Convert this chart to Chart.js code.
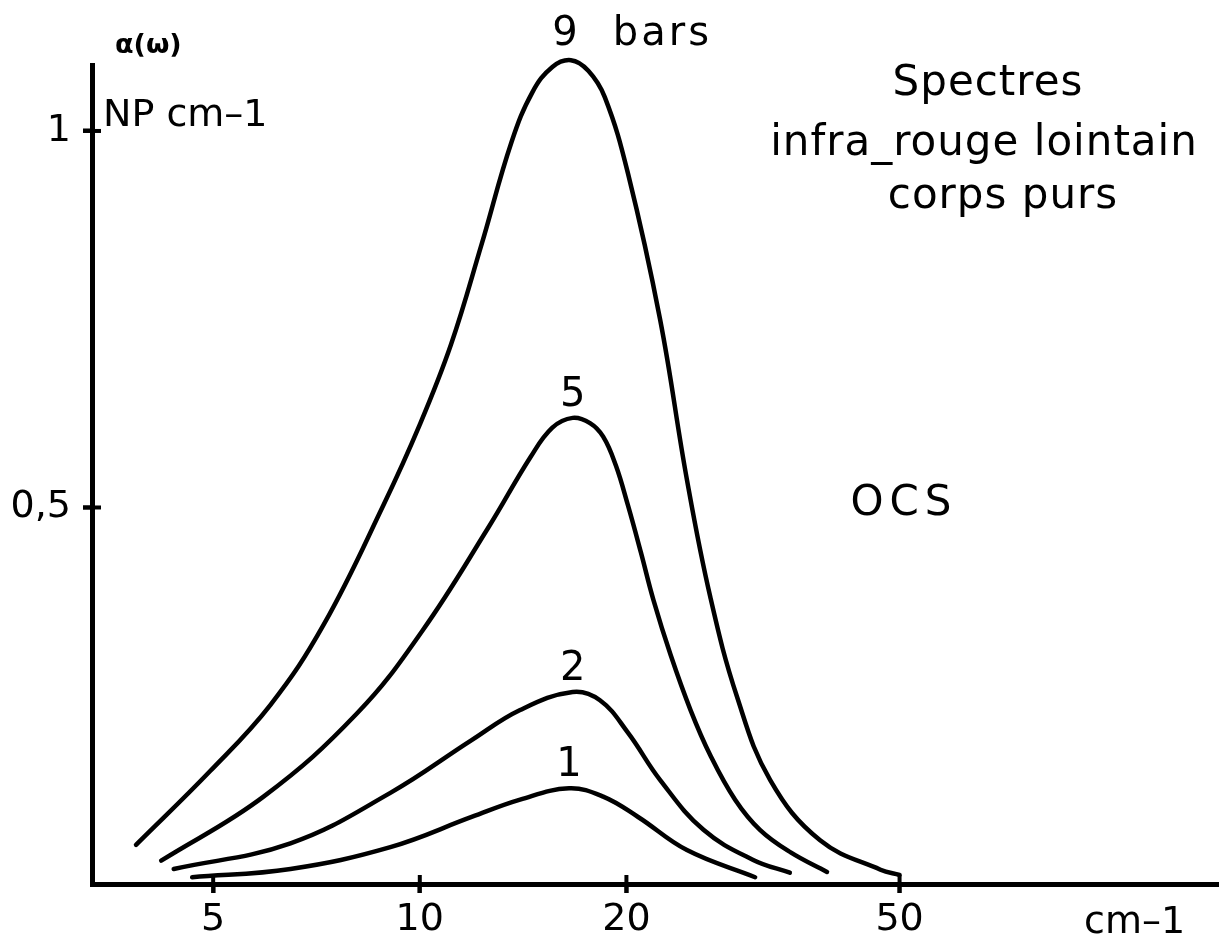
<!DOCTYPE html>
<html>
<head>
<meta charset="utf-8">
<title>Spectres infra-rouge lointain - OCS</title>
<script src="https://cdn.jsdelivr.net/npm/chart.js@4.4.1/dist/chart.umd.min.js"></script>
<style>
  html, body { margin: 0; padding: 0; background: #fff; }
  #wrap { width: 1219px; height: 939px; }
</style>
</head>
<body>
<div id="wrap"><canvas id="ocs" width="1219" height="939"></canvas></div>
<script>
// wavenumber (cm-1) and alpha(omega) (NP cm-1), one pair per pressure
const nu9    = [3.86, 4.95, 6.06, 7.24, 8.85, 10.0, 11.1, 12.3, 13.6, 14.6, 15.6, 16.6, 17.6,
                18.6, 20.1, 22.4, 24.5, 26.5, 29.0, 32.4, 38.3, 46.9, 50];
const alpha9 = [0.052, 0.150, 0.238, 0.344, 0.503, 0.610, 0.716, 0.849, 0.985, 1.052, 1.085, 1.094, 1.080,
                1.045, 0.944, 0.749, 0.537, 0.381, 0.248, 0.138, 0.058, 0.019, 0.012];

const nu5    = [4.20, 5.92, 8.11, 10.1, 12.6, 14.5, 15.6, 16.7,
                17.7, 18.5, 19.3, 20.1, 21.0, 21.9, 23.2, 24.8, 26.5, 28.8, 31.3, 34.7, 39.2];
const alpha5 = [0.031, 0.116, 0.227, 0.337, 0.474, 0.567, 0.606, 0.619,
                0.612, 0.594, 0.556, 0.503, 0.440, 0.377, 0.304, 0.231, 0.171, 0.112, 0.072, 0.042, 0.016];

const nu2    = [4.38, 6.48, 9.06, 11.9, 14.0, 16.7, 18.3, 20.1, 22.4, 25.9, 30.6, 34.6];
const alpha2 = [0.020, 0.054, 0.121, 0.191, 0.231, 0.255, 0.244, 0.201, 0.138, 0.072, 0.032, 0.015];

const nu1    = [4.66, 6.48, 9.06, 11.9, 14.0, 16.5, 18.5, 20.8, 24.5, 30.8];
const alpha1 = [0.009, 0.020, 0.049, 0.089, 0.112, 0.127, 0.116, 0.089, 0.045, 0.009];

const pressures = ["9 bars", "5", "2", "1"];
const xTicks = [5, 10, 20, 50];
const yTicks = [0.5, 1];

const FONT = '"DejaVu Sans", sans-serif';

const curves = [
  { nu: nu9, alpha: alpha9 },
  { nu: nu5, alpha: alpha5 },
  { nu: nu2, alpha: alpha2 },
  { nu: nu1, alpha: alpha1 }
];

const toPoints = (xs, ys) => xs.map((x, i) => ({ x: x, y: ys[i] }));

// texts, tick crosses and curve labels
const annotations = {
  id: "annotations",
  afterDraw(chart) {
    const { ctx, scales: { x, y } } = chart;
    ctx.save();
    ctx.fillStyle = "#000";
    ctx.strokeStyle = "#000";

    // ticks cross the axis lines
    ctx.lineWidth = 4;
    xTicks.forEach(v => {
      const px = x.getPixelForValue(v);
      ctx.beginPath();
      ctx.moveTo(px, y.bottom - 9);
      ctx.lineTo(px, y.bottom + 9);
      ctx.stroke();
    });
    yTicks.forEach(v => {
      const py = y.getPixelForValue(v);
      ctx.beginPath();
      ctx.moveTo(x.left - 9, py);
      ctx.lineTo(x.left + 9, py);
      ctx.stroke();
    });

    // pressure labels above each peak
    ctx.font = "40px " + FONT;
    ctx.textBaseline = "alphabetic";
    curves.forEach((c, i) => {
      const k = c.alpha.indexOf(Math.max(...c.alpha));
      const px = x.getPixelForValue(c.nu[k]);
      const py = y.getPixelForValue(c.alpha[k]);
      if (i === 0) {
        const parts = pressures[i].split(" ");
        ctx.textAlign = "center";
        ctx.fillText(parts[0], px - 6, py - 15);
        ctx.textAlign = "left";
        ctx.letterSpacing = "3px";
        ctx.fillText(parts[1], px + 42, py - 15);
        ctx.letterSpacing = "0px";
      } else {
        ctx.textAlign = "center";
        ctx.fillText(pressures[i], px, py - 12);
      }
    });

    // axis units
    ctx.textAlign = "left";
    ctx.font = "bold 27px " + FONT;
    ctx.fillText("\u03b1(\u03c9)", 115, 53);
    ctx.font = "38px " + FONT;
    ctx.fillText("NP cm\u20131", 103, 126);
    ctx.fillText("cm\u20131", 1084, 933);

    // title block
    ctx.textAlign = "center";
    ctx.font = "42px " + FONT;
    ctx.letterSpacing = "1px";
    ctx.fillText("Spectres", 988, 95);
    ctx.fillText("infra_rouge lointain", 984, 155);
    ctx.fillText("corps purs", 1003, 208);
    ctx.letterSpacing = "6px";
    ctx.fillText("OCS", 904, 515);
    ctx.restore();
  }
};

new Chart(document.getElementById("ocs"), {
  type: "line",
  data: {
    datasets: curves.map((c, i) => ({
      label: pressures[i],
      data: toPoints(c.nu, c.alpha),
      borderColor: "#000",
      borderWidth: 4.5,
      borderCapStyle: "round",
      borderJoinStyle: "round",
      pointRadius: 0,
      fill: false,
      tension: 0.4,
      clip: false
    }))
  },
  options: {
    responsive: false,
    animation: false,
    layout: { padding: { top: 65, right: 0, left: 0, bottom: 0 } },
    plugins: { legend: { display: false }, tooltip: { enabled: false } },
    scales: {
      x: {
        type: "logarithmic",
        min: 3.33,
        max: 146,
        afterBuildTicks: s => { s.ticks = xTicks.map(v => ({ value: v })); },
        afterFit: s => { s.height = 55; },
        ticks: {
          autoSkip: false,
          maxRotation: 0,
          color: "#000",
          padding: 4,
          font: { family: FONT, size: 38 },
          callback: v => String(v)
        },
        grid: { drawOnChartArea: false, tickLength: 9, tickWidth: 4, tickColor: "#000" },
        border: { color: "#000", width: 5 }
      },
      y: {
        min: 0,
        max: 1.0876,
        afterBuildTicks: s => { s.ticks = yTicks.map(v => ({ value: v })); },
        afterFit: s => { s.width = 92; },
        ticks: {
          color: "#000",
          padding: 12,
          font: { family: FONT, size: 38 },
          callback: v => String(v).replace(".", ",")
        },
        grid: { drawOnChartArea: false, tickLength: 9, tickWidth: 4, tickColor: "#000" },
        border: { color: "#000", width: 5 }
      }
    }
  },
  plugins: [annotations]
});
</script>
</body>
</html>
